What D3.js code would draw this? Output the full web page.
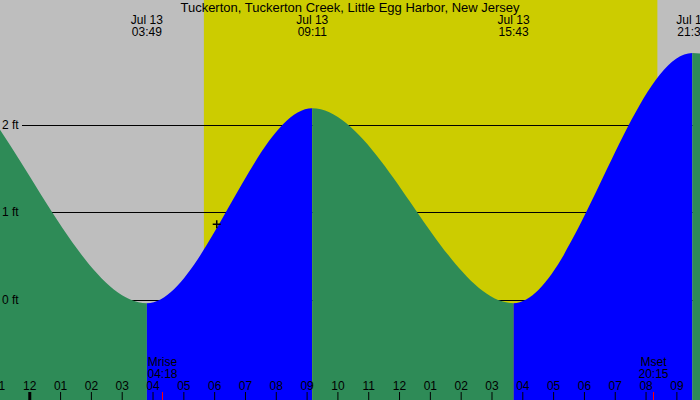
<!DOCTYPE html>
<html>
<head>
<meta charset="utf-8">
<script src="https://cdn.jsdelivr.net/npm/d3@7"></script>
<style>
  body { margin: 0; }
  svg { display: block; }
  text { font-family: "Liberation Sans", Arial, sans-serif; font-size: 12px; }
</style>
</head>
<body>
<svg></svg>
<script>

 var title = "Tuckerton, Tuckerton Creek, Little Egg Harbor, New Jersey";

 // tide extremes (first and last lie outside the visible window)
 var tideTimes = ["07-12 14:05", "07-12 20:19", "07-13 03:49", "07-13 09:11", "07-13 15:43", "07-13 21:31", "07-14 04:10"];
 var tideHeights = [-0.1, 2.8, -0.03, 2.19, -0.03, 2.82, 0.0];

 var sunTimes = ["07-13 05:40", "07-13 20:23"];

 var moonLabels = ["Mrise", "Mset"];
 var moonTimes = ["07-13 04:18", "07-13 20:15"];

 var markerTime = "07-13 06:05", markerHeight = 0.87;

 var timeDomain = ["07-12 23:03", "07-13 21:46"];
 var hourLabels = ["11", "12", "01", "02", "03", "04", "05", "06", "07", "08", "09", "10",
                   "11", "12", "01", "02", "03", "04", "05", "06", "07", "08", "09"];
 var yTicks = [0, 1, 2];
 var yLabels = ["0 ft", "1 ft", "2 ft"];


 var svgWidth = 700, svgHeight = 400;
 var parse = d3.timeParse("%m-%d %H:%M");

 var svg = d3.select('svg')
     .attr("width", svgWidth)
     .attr("height", svgHeight);

 var x = d3.scaleTime()
     .domain(timeDomain.map(parse))
     .range([0, svgWidth]);

 var y = d3.scaleLinear()
     .domain([0, 2])
     .range([300.5, 125]);

 var tides = tideTimes.map(function(t, i) {
     return { date: parse(t), h: tideHeights[i] };
 });

 // night / day background
 svg.append("rect")
     .attr("width", svgWidth)
     .attr("height", svgHeight)
     .attr("fill", "#bebebe");

 svg.append("rect")
     .attr("x", x(parse(sunTimes[0])))
     .attr("width", x(parse(sunTimes[1])) - x(parse(sunTimes[0])))
     .attr("height", svgHeight)
     .attr("fill", "#cccc00");

 // title and tide event labels
 svg.append("text")
     .attr("x", svgWidth / 2)
     .attr("y", 12)
     .attr("text-anchor", "middle")
     .style("font-size", "13px")
     .text(title);

 var visible = tides.filter(function(d) {
     return x(d.date) > 0 && x(d.date) < svgWidth;
 });

 var evLabels = svg.selectAll(".ev")
     .data(visible)
     .enter()
     .append("g")
     .attr("class", "ev")
     .attr("transform", function(d) {
         return "translate(" + x(d.date) + ",0)";
     });
 evLabels.append("text")
     .attr("y", 24)
     .attr("text-anchor", "middle")
     .text(function(d) { return d3.timeFormat("%b %d")(d.date); });
 evLabels.append("text")
     .attr("y", 36)
     .attr("text-anchor", "middle")
     .text(function(d) { return d3.timeFormat("%H:%M")(d.date); });

 // grid lines (sit under the water)
 svg.selectAll(".grid")
     .data(yTicks)
     .enter()
     .append("line")
     .attr("class", "grid")
     .attr("x1", 22)
     .attr("x2", svgWidth)
     .attr("y1", function(d) { return Math.floor(y(d)) + 0.5; })
     .attr("y2", function(d) { return Math.floor(y(d)) + 0.5; })
     .attr("stroke", "black");

 // water, green while falling and blue while rising
 var area = d3.area()
     .x(function(d) { return x(d.date); })
     .y0(svgHeight)
     .y1(function(d) { return y(d.h); })
     .curve(d3.curveMonotoneX);

 var defs = svg.append("defs");
 tides.slice(1).forEach(function(d, i) {
     var prev = tides[i];
     defs.append("clipPath")
         .attr("id", "seg" + i)
         .append("rect")
         .attr("x", x(prev.date))
         .attr("width", x(d.date) - x(prev.date))
         .attr("height", svgHeight);
     svg.append("path")
         .datum(tides)
         .attr("d", area)
         .attr("clip-path", "url(#seg" + i + ")")
         .attr("fill", d.h > prev.h ? "#0000ff" : "#2e8b57");
 });

 // height labels
 svg.selectAll(".ylab")
     .data(yTicks)
     .enter()
     .append("text")
     .attr("class", "ylab")
     .attr("x", 2)
     .attr("y", function(d) { return Math.floor(y(d)) + 4; })
     .text(function(d, i) { return yLabels[i]; });

 // marker
 svg.append("path")
     .attr("d", "M-4,0H4M0,-4V4")
     .attr("transform", "translate(" + x(parse(markerTime)) + "," + y(markerHeight) + ")")
     .attr("stroke", "black")
     .attr("stroke-width", 1.5);

 // hour axis along the bottom
 var hours = d3.timeHour.range(d3.timeHour.floor(x.domain()[0]), x.domain()[1]);
 var axis = svg.append("g")
     .attr("transform", "translate(0," + svgHeight + ")")
     .call(d3.axisTop(x)
         .tickValues(hours)
         .tickSize(8)
         .tickPadding(2)
         .tickFormat(function(d, i) { return hourLabels[i]; }));
 axis.select(".domain").remove();
 axis.selectAll("text")
     .attr("fill", "black")
     .style("font-family", "'Liberation Sans', Arial, sans-serif")
     .style("font-size", "12px");
 axis.selectAll("line").attr("stroke", "black");
 axis.selectAll(".tick")
     .filter(function(d) { return d.getHours() === 0; })
     .select("line")
     .attr("stroke-width", 3);

 // moon rise / set
 var moon = svg.selectAll(".moon")
     .data(moonTimes)
     .enter()
     .append("g")
     .attr("class", "moon")
     .attr("transform", function(d) {
         return "translate(" + (Math.round(x(parse(d))) + 0.5) + ",0)";
     });
 moon.append("line")
     .attr("y1", 392)
     .attr("y2", svgHeight)
     .attr("stroke", "red");
 moon.append("text")
     .attr("y", 366)
     .attr("text-anchor", "middle")
     .text(function(d, i) { return moonLabels[i]; });
 moon.append("text")
     .attr("y", 378)
     .attr("text-anchor", "middle")
     .text(function(d) { return d3.timeFormat("%H:%M")(parse(d)); });

</script>
</body>
</html>
